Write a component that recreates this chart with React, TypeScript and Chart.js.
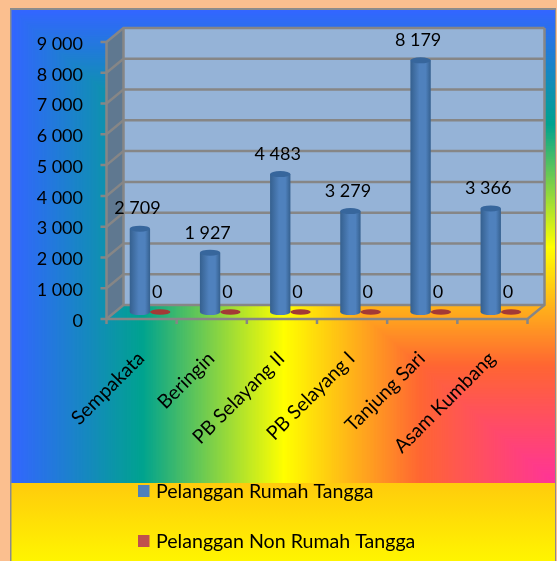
import React, { useEffect, useRef } from "react";
import { Chart, registerables } from "chart.js";

Chart.register(...registerables);

const categories = ["Sempakata", "Beringin", "PB Selayang II", "PB Selayang I", "Tanjung Sari", "Asam Kumbang"];
const rumahTangga = [2709, 1927, 4483, 3279, 8179, 3366];
const nonRumahTangga = [0, 0, 0, 0, 0, 0];
const rumahLabels = ["2 709", "1 927", "4 483", "3 279", "8 179", "3 366"];
const nonRumahLabels = ["0", "0", "0", "0", "0", "0"];
const yTickLabels = ["0", "1 000", "2 000", "3 000", "4 000", "5 000", "6 000", "7 000", "8 000", "9 000"];
const seriesNames = ["Pelanggan Rumah Tangga", "Pelanggan Non Rumah Tangga"];
const seriesColors = ["#4F81BD", "#C0504D"];

const FONT = "Lato";
const DX = 17;
const DY = 14;
const STOPS: [number, number[]][] = [
  [0, [51, 102, 255]],
  [0.24, [0, 163, 143]],
  [0.5, [255, 255, 0]],
  [0.75, [255, 102, 51]],
  [1, [255, 51, 153]],
];

function rainbow(t: number) {
  for (let i = 1; i < STOPS.length; i++) {
    if (t <= STOPS[i][0]) {
      const [t0, a] = STOPS[i - 1];
      const [t1, b] = STOPS[i];
      const f = (t - t0) / (t1 - t0);
      return `rgb(${a.map((c, k) => Math.round(c + (b[k] - c) * f)).join(",")})`;
    }
  }
  return "rgb(255,51,153)";
}

const backdrop = {
  id: "backdrop",
  beforeDraw(chart: any) {
    const { ctx, scales } = chart;
    const y = scales.y;
    const x = scales.x;
    const fl = x.left - DX / 2;
    const fr = x.right - DX / 2;
    const y0 = y.getPixelForValue(0);
    const yMax = y.getPixelForValue(9000);
    ctx.save();
    ctx.fillStyle = "#FBBF8F";
    ctx.fillRect(0, 0, 557, 561);
    ctx.fillStyle = "#8C8C8C";
    ctx.fillRect(10, 8, 546, 553);

    const X0 = 11.5, Y0 = 10, W = 543.5, H = 473;
    const steps = 400;
    for (let i = 0; i < steps; i++) {
      const t = i / steps;
      ctx.fillStyle = rainbow(t);
      ctx.fillRect(X0 + W * t, Y0 + H * t, W * (1 - t), H * (1 - t));
    }
    const lg = ctx.createLinearGradient(0, 483, 0, 561);
    lg.addColorStop(0, "#FFCB0C");
    lg.addColorStop(1, "#FFF500");
    ctx.fillStyle = lg;
    ctx.fillRect(X0, 483, W, 78);

    ctx.fillStyle = "#95B3D7";
    ctx.fillRect(fl + DX, yMax - DY, fr - fl, y0 - yMax);
    ctx.fillStyle = "#5F7890";
    ctx.beginPath();
    ctx.moveTo(fl, yMax);
    ctx.lineTo(fl + DX, yMax - DY);
    ctx.lineTo(fl + DX, y0 - DY);
    ctx.lineTo(fl, y0);
    ctx.closePath();
    ctx.fill();

    ctx.strokeStyle = "#868686";
    ctx.lineWidth = 2.5;
    yTickLabels.forEach((_, i) => {
      const py = y.getPixelForValue(i * 1000);
      ctx.beginPath();
      ctx.moveTo(fl - 6, py);
      ctx.lineTo(fl, py);
      ctx.lineTo(fl + DX, py - DY);
      ctx.lineTo(fr + DX, py - DY);
      ctx.stroke();
    });
    ctx.beginPath();
    ctx.moveTo(fl, yMax);
    ctx.lineTo(fl, y0);
    ctx.lineTo(fr, y0);
    ctx.lineTo(fr + DX, y0 - DY);
    ctx.lineTo(fr + DX, yMax - DY);
    ctx.moveTo(fl + DX, yMax - DY);
    ctx.lineTo(fl + DX, y0 - DY);
    ctx.stroke();
    const step = (fr - fl) / categories.length;
    for (let i = 0; i <= categories.length; i++) {
      ctx.beginPath();
      ctx.moveTo(fl + step * i, y0);
      ctx.lineTo(fl + step * i, y0 + 5);
      ctx.stroke();
    }
    ctx.restore();
  },
};

const cylinders = {
  id: "cylinders",
  afterDatasetsDraw(chart: any) {
    const { ctx } = chart;
    const blue = chart.getDatasetMeta(0).data;
    const red = chart.getDatasetMeta(1).data;
    ctx.save();
    blue.forEach((bar: any) => {
      const r = bar.width / 2;
      const g = ctx.createLinearGradient(bar.x - r, 0, bar.x + r, 0);
      g.addColorStop(0, "#35608F");
      g.addColorStop(0.45, "#4F81BD");
      g.addColorStop(0.75, "#4F81BD");
      g.addColorStop(1, "#35608F");
      ctx.fillStyle = g;
      ctx.beginPath();
      ctx.ellipse(bar.x, bar.base, r, 3, 0, 0, Math.PI * 2);
      ctx.fill();
      ctx.fillStyle = "#37669C";
      ctx.beginPath();
      ctx.ellipse(bar.x, bar.y, r, 3, 0, 0, Math.PI * 2);
      ctx.fill();
    });
    red.forEach((bar: any) => {
      ctx.fillStyle = "#A33A36";
      ctx.beginPath();
      ctx.ellipse(bar.x, bar.y, bar.width / 2, 2.8, 0, 0, Math.PI * 2);
      ctx.fill();
    });
    ctx.fillStyle = "#000";
    ctx.font = `18px ${FONT}`;
    ctx.textAlign = "center";
    ctx.textBaseline = "middle";
    blue.forEach((bar: any, i: number) => ctx.fillText(rumahLabels[i], bar.x - 2.5, bar.y - 20));
    red.forEach((bar: any, i: number) => ctx.fillText(nonRumahLabels[i], bar.x - 3, bar.y - 20));

    ctx.textAlign = "left";
    ctx.font = `19.6px ${FONT}`;
    seriesNames.forEach((name, i) => {
      const py = 491 + i * 50;
      ctx.fillStyle = seriesColors[i];
      ctx.fillRect(138, py - 6, 11.5, 12);
      ctx.fillStyle = "#000";
      ctx.fillText(name, 156, py + 1);
    });
    ctx.restore();
  },
};

export default function App() {
  const ref = useRef<HTMLCanvasElement>(null);
  useEffect(() => {
    const chart = new Chart(ref.current!, {
      type: "bar",
      data: {
        labels: categories,
        datasets: [
          {
            label: seriesNames[0],
            data: rumahTangga,
            yAxisID: "y2",
            backgroundColor: (c: any) => {
              const x = c.chart.scales.x;
              const cx = x && c.dataIndex !== undefined ? x.getPixelForValue(c.dataIndex) - 10.2 : NaN;
              if (!Number.isFinite(cx)) return seriesColors[0];
              const g = c.chart.ctx.createLinearGradient(cx - 10.2, 0, cx + 10.2, 0);
              g.addColorStop(0, "#35608F");
              g.addColorStop(0.45, "#4F81BD");
              g.addColorStop(0.75, "#4F81BD");
              g.addColorStop(1, "#35608F");
              return g;
            },
          },
          { label: seriesNames[1], data: nonRumahTangga, yAxisID: "y2", backgroundColor: seriesColors[1] },
        ],
      },
      options: {
        animation: false,
        responsive: false,
        barPercentage: 1,
        categoryPercentage: 0.58,
        layout: { padding: { top: 42, right: 21, left: 0, bottom: 0 } },
        plugins: { legend: { display: false }, tooltip: { enabled: false } },
        scales: {
          x: {
            grid: { display: false },
            border: { display: false },
            afterFit: (s: any) => { s.height = 242; },
            ticks: {
              autoSkip: false,
              minRotation: 45,
              maxRotation: 45,
              padding: 20,
              labelOffset: -9,
              color: "#000",
              font: { family: FONT, size: 19.5 },
            },
          },
          y: {
            min: 0,
            max: 9000,
            grid: { display: false },
            border: { display: false },
            afterFit: (s: any) => { s.width = 115; },
            ticks: {
              stepSize: 1000,
              padding: 24,
              labelOffset: 2,
              color: "#000",
              font: { family: FONT, size: 18 },
              callback: (_v: any, i: number) => yTickLabels[i],
            },
          },
          y2: { display: false, min: -227, max: 8773 },
        },
      } as any,
      plugins: [backdrop, cylinders],
    });
    return () => chart.destroy();
  }, []);
  return (
    <div style={{ position: "absolute", left: 0, top: 0, width: 557, height: 561 }}>
      <canvas ref={ref} width={557} height={561} style={{ display: "block" }} />
    </div>
  );
}
